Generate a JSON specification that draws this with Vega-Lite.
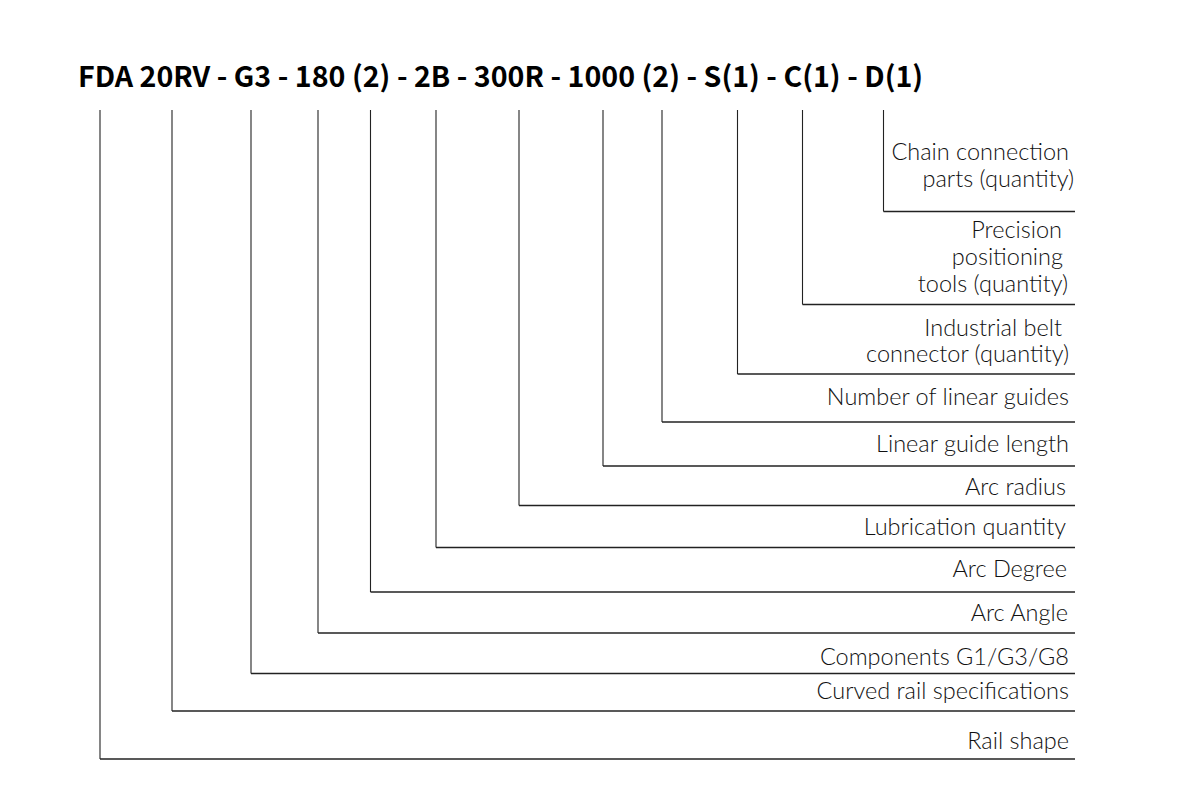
{
  "$schema": "https://vega.github.io/schema/vega-lite/v6.json",
  "width": 1177,
  "height": 806,
  "autosize": {"type": "fit", "contains": "padding"},
  "padding": 0,
  "background": "white",
  "config": {"view": {"stroke": null}},
  "datasets": {
    "branches": [
      {"item": "Rail shape", "x": 100, "yTop": 110, "yLine": 759, "xEnd": 1075},
      {"item": "Curved rail specifications", "x": 172, "yTop": 110, "yLine": 711, "xEnd": 1075},
      {"item": "Components G1/G3/G8", "x": 251, "yTop": 110, "yLine": 673.5, "xEnd": 1075},
      {"item": "Arc Angle", "x": 318, "yTop": 110, "yLine": 633, "xEnd": 1075},
      {"item": "Arc Degree", "x": 370.5, "yTop": 110, "yLine": 592, "xEnd": 1075},
      {"item": "Lubrication quantity", "x": 436, "yTop": 110, "yLine": 547.5, "xEnd": 1075},
      {"item": "Arc radius", "x": 519, "yTop": 110, "yLine": 505.5, "xEnd": 1075},
      {"item": "Linear guide length", "x": 603, "yTop": 110, "yLine": 466, "xEnd": 1075},
      {"item": "Number of linear guides", "x": 662, "yTop": 110, "yLine": 422, "xEnd": 1075},
      {"item": "Industrial belt connector (quantity)", "x": 737.5, "yTop": 110, "yLine": 374, "xEnd": 1075},
      {"item": "Precision positioning tools (quantity)", "x": 802.5, "yTop": 110, "yLine": 304.5, "xEnd": 1075},
      {"item": "Chain connection parts (quantity)", "x": 883.5, "yTop": 110, "yLine": 211.5, "xEnd": 1075}
    ],
    "labels": [
      {"text": "Chain connection", "x": 1069, "y": 153},
      {"text": "parts (quantity)", "x": 1074, "y": 180},
      {"text": "Precision", "x": 1062, "y": 231},
      {"text": "positioning", "x": 1063, "y": 258},
      {"text": "tools (quantity)", "x": 1068, "y": 285},
      {"text": "Industrial belt", "x": 1062, "y": 329},
      {"text": "connector (quantity)", "x": 1069, "y": 355},
      {"text": "Number of linear guides", "x": 1069, "y": 398},
      {"text": "Linear guide length", "x": 1069, "y": 445},
      {"text": "Arc radius", "x": 1066, "y": 488},
      {"text": "Lubrication quantity", "x": 1066, "y": 528},
      {"text": "Arc Degree", "x": 1067, "y": 570},
      {"text": "Arc Angle", "x": 1068, "y": 614},
      {"text": "Components G1/G3/G8", "x": 1069, "y": 658},
      {"text": "Curved rail specifications", "x": 1069, "y": 692},
      {"text": "Rail shape", "x": 1069, "y": 742}
    ],
    "title": [
      {"text": "FDA 20RV - G3 - 180 (2) - 2B - 300R - 1000 (2) - S(1) - C(1) - D(1)", "x": 78, "y": 78}
    ]
  },
  "layer": [
    {
      "data": {"name": "branches"},
      "mark": {"type": "rule", "color": "#222222", "strokeWidth": 1.1},
      "encoding": {
        "x": {"field": "x", "type": "quantitative", "scale": {"domain": [0, 1177], "nice": false, "zero": false}, "axis": null},
        "y": {"field": "yTop", "type": "quantitative", "scale": {"domain": [0, 806], "nice": false, "zero": false, "reverse": true}, "axis": null},
        "y2": {"field": "yLine"}
      }
    },
    {
      "data": {"name": "branches"},
      "mark": {"type": "rule", "color": "#222222", "strokeWidth": 1.5},
      "encoding": {
        "x": {"field": "x", "type": "quantitative", "scale": {"domain": [0, 1177], "nice": false, "zero": false}, "axis": null},
        "x2": {"field": "xEnd"},
        "y": {"field": "yLine", "type": "quantitative", "scale": {"domain": [0, 806], "nice": false, "zero": false, "reverse": true}, "axis": null}
      }
    },
    {
      "data": {"name": "labels"},
      "mark": {"type": "text", "align": "right", "baseline": "middle", "font": "Lato", "fontWeight": 300, "fontSize": 23.5, "color": "#111111"},
      "encoding": {
        "x": {"field": "x", "type": "quantitative", "scale": {"domain": [0, 1177], "nice": false, "zero": false}, "axis": null},
        "y": {"field": "y", "type": "quantitative", "scale": {"domain": [0, 806], "nice": false, "zero": false, "reverse": true}, "axis": null},
        "text": {"field": "text", "type": "nominal"}
      }
    },
    {
      "data": {"name": "title"},
      "mark": {"type": "text", "align": "left", "baseline": "middle", "font": "Noto Sans CJK SC", "fontWeight": "bold", "fontSize": 28.6, "color": "#000000"},
      "encoding": {
        "x": {"field": "x", "type": "quantitative", "scale": {"domain": [0, 1177], "nice": false, "zero": false}, "axis": null},
        "y": {"field": "y", "type": "quantitative", "scale": {"domain": [0, 806], "nice": false, "zero": false, "reverse": true}, "axis": null},
        "text": {"field": "text", "type": "nominal"}
      }
    }
  ]
}
